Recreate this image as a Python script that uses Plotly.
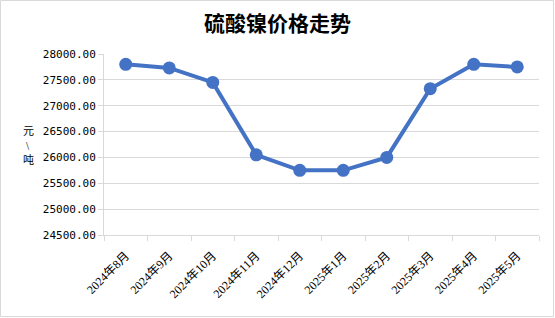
import plotly.graph_objects as go

categories = ["2024年8月", "2024年9月", "2024年10月", "2024年11月", "2024年12月",
              "2025年1月", "2025年2月", "2025年3月", "2025年4月", "2025年5月"]
prices = [27800, 27730, 27450, 26050, 25750, 25750, 26000, 27330, 27800, 27750]
y_ticks = [24500, 25000, 25500, 26000, 26500, 27000, 27500, 28000]
y_title_chars = ["元", "\\", "吨"]

W, H = 555, 318
ML, MR, MT, MB = 104, 16, 54, 83
pw, ph = W - ML - MR, H - MT - MB


def px_x(x):
    return (x - ML) / pw


def px_y(y):
    return (H - MB - y) / ph


fig = go.Figure()
fig.add_trace(go.Scatter(
    x=categories, y=prices, mode="lines+markers",
    line=dict(color="#4472C4", width=4),
    marker=dict(color="#4472C4", size=13),
    cliponaxis=False, showlegend=False,
))

grid = "#d9d9d9"
annotations = []
for i, ch in enumerate(y_title_chars):
    annotations.append(dict(
        text=ch, xref="paper", yref="paper",
        x=px_x(28), y=px_y(130 + i * 14.5), xanchor="center", yanchor="middle",
        showarrow=False,
        font=dict(family="Noto Sans CJK SC", size=11 if i != 1 else 8, color="#000000"),
    ))

fig.update_layout(
    width=W, height=H,
    margin=dict(l=ML, r=MR, t=MT, b=MB),
    paper_bgcolor="white", plot_bgcolor="white",
    title=dict(text="<b>硫酸镍价格走势</b>", x=0.5, xanchor="center",
               y=1 - 24 / H, yanchor="middle",
               font=dict(family="Noto Sans CJK SC", size=21, color="#000000")),
    xaxis=dict(
        type="category", tickson="boundaries", ticks="outside", ticklen=5,
        tickcolor=grid, showline=True, linecolor=grid, linewidth=1,
        showgrid=False, tickangle=-45, ticklabelstandoff=8,
        tickfont=dict(family="Liberation Serif, Noto Sans CJK SC", size=12, color="#000000"),
        range=[-0.5, len(categories) - 0.5],
    ),
    yaxis=dict(
        range=[24500, 28000], tickvals=y_ticks,
        ticktext=[f"{v:.2f}" for v in y_ticks],
        ticks="outside", ticklen=5, tickcolor=grid,
        showgrid=True, gridcolor=grid, gridwidth=1,
        showline=True, linecolor=grid, linewidth=1,
        zeroline=False,
        tickfont=dict(family="DejaVu Sans Mono", size=11, color="#000000"),
    ),
    annotations=annotations,
    shapes=[dict(
        type="rect", xref="paper", yref="paper",
        x0=px_x(0.5), x1=px_x(553.5),
        y0=px_y(316.5), y1=px_y(0.5),
        line=dict(color="#d9d9d9", width=1), fillcolor="rgba(0,0,0,0)", layer="below",
    )],
)

fig.write_html("out.html")
